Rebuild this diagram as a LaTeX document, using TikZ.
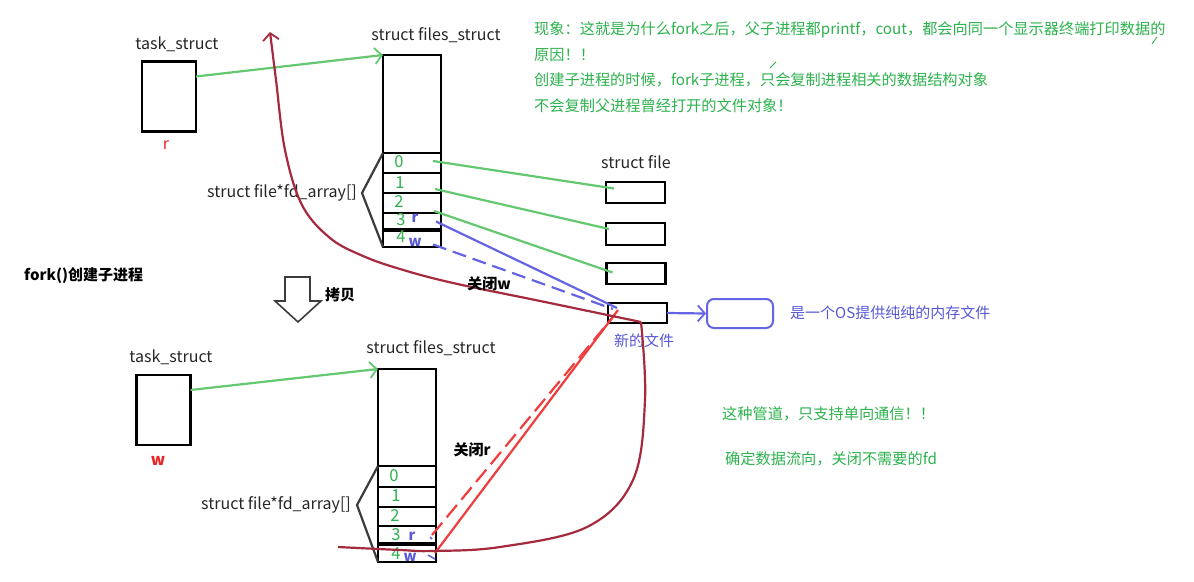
\documentclass[tikz,border=0pt]{standalone}
\usepackage{fontspec}
\setmainfont{Noto Sans CJK SC}
\usetikzlibrary{arrows.meta,calc}
\definecolor{gline}{RGB}{100,200,112}
\definecolor{gtext}{RGB}{45,178,78}
\definecolor{bline}{RGB}{100,100,228}
\definecolor{btext}{RGB}{88,88,215}
\definecolor{rline}{RGB}{240,60,60}
\definecolor{mline}{RGB}{165,42,62}
\definecolor{rtext}{RGB}{235,35,35}
\definecolor{bk}{RGB}{60,60,60}
\tikzset{
  box/.style={draw=black, line width=2.2pt, inner sep=0pt, outer sep=0pt, minimum width=58pt},
  tbox/.style={draw=black, line width=2.2pt, inner sep=0pt, outer sep=0pt, minimum width=54pt, minimum height=70pt},
  fbox/.style={draw=black, line width=2.4pt, inner sep=0pt, outer sep=0pt, minimum width=59pt, minimum height=21pt},
  lbl/.style={font=\fontsize{16}{18}\selectfont, text=black!85, inner sep=0pt},
  num/.style={font=\fontsize{16.5}{18}\selectfont, text=gtext, inner sep=0pt},
  rw/.style={font=\fontsize{14.5}{16}\selectfont\bfseries, text=btext, inner sep=0pt},
  red/.style={font=\fontsize{16}{17}\selectfont\bfseries, text=rtext, inner sep=0pt},
  gnote/.style={font=\fontsize{15.2}{17}\selectfont, text=gtext, anchor=west, inner sep=0pt},
  bnote/.style={font=\fontsize{15}{17}\selectfont, text=btext, inner sep=0pt},
  bold/.style={font=\fontsize{15}{17}\selectfont\bfseries, text=black, inner sep=0pt},
  gconn/.style={draw=gline, line width=2.2pt},
  barb/.style={-{Straight Barb[length=7pt,width=16pt,line width=1.8pt]}},
  brk/.style={draw=bk, line width=2.2pt},
  thick3/.style={draw=black, line width=3.5pt},
}
\begin{document}
\begin{tikzpicture}[x=1pt,y=-1pt]
\useasboundingbox (0,0) rectangle (1194,581);
\fill[white] (0,0) rectangle (1194,581);

% ---------------- top (parent) ----------------
\node[lbl] (t1l) at (177,44) {task\_struct};
\node[tbox] (t1) at (169,96.5) {};
\node[red, font=\fontsize{16}{17}\selectfont] (t1r) at (166,145) {r};

\node[lbl] (f1l) at (436,35) {struct files\_struct};
\node[box, minimum height=98pt] (a) at (412,104) {};
\node[box, minimum height=20pt] (a0) at (412,163) {};
\node[box, minimum height=20pt] (a1) at (412,183) {};
\node[box, minimum height=20pt] (a2) at (412,203) {};
\node[box, minimum height=17pt] (a3) at (412,221.5) {};
\node[box, minimum height=17pt] (a4) at (412,238.5) {};
\draw[thick3] (a3.south west) -- (a3.south east);
\node[num] (a0n) at (399,162) {0};
\node[num] (a1n) at (400,183) {1};
\node[num] (a2n) at (399,202) {2};
\node[num] (a3n) at (401,220) {3};
\node[num] (a4n) at (401,237) {4};
\node[rw] (a3r) at (415,218) {r};
\node[rw] (a4w) at (415,242) {w};

\coordinate (b1) at (362,193);
\draw[brk] (a0.north west) -- (b1) -- (a4.south west);
\node[lbl, anchor=east] (fd1) at (357,193) {struct file*fd\_array[]};

\draw[gconn, barb] ([yshift=20pt]t1.east) -- (a.north west);

% struct file
\node[lbl] (sfl) at (636,162) {struct file};
\node[fbox] (s0) at (635.5,192.5) {};
\node[fbox, minimum height=22pt] (s1) at (635.5,234) {};
\node[fbox] (s2) at (636,273.5) {};
\node[fbox, minimum height=20pt] (nf) at (637.5,313) {};
\node[bnote] (nfl) at (644,341) {新的文件};

\draw[gconn] ([xshift=-8pt,yshift=2pt]a0.east) -- ([xshift=8pt,yshift=4pt]s0.west);
\draw[gconn] ([xshift=-6pt,yshift=-6pt]a1.east) -- ([xshift=3pt,yshift=5pt]s1.west);
\draw[gconn] ([xshift=-7pt,yshift=-8pt]a2.east) -- ([xshift=6pt,yshift=1pt]s2.west);
\draw[draw=bline, line width=2.2pt] ([xshift=-5pt]a3.east) -- ([xshift=9pt,yshift=5pt]nf.west);
\draw[draw=bline, line width=2.2pt, dash pattern=on 14pt off 7pt] ([xshift=-8pt,yshift=-6pt]a4.east) -- ([xshift=5pt,yshift=4pt]nf.west);

\node[draw=bline, line width=2pt, rounded corners=7pt, minimum width=66pt, minimum height=29pt, inner sep=0pt] (os) at (740,313.5) {};
\draw[draw=bline, line width=2.2pt, barb] (nf.east) -- (os.west);
\node[bnote, anchor=west] (osl) at (790,313) {是一个OS提供纯纯的内存文件};

% notes
\node[gnote] (n1) at (534,30) {现象：这就是为什么fork之后，父子进程都printf，cout，都会向同一个显示器终端打印数据的};
\node[gnote] (n2) at (534,55) {原因！！};
\node[gnote] (n3) at (534,80) {创建子进程的时候，fork子进程，只会复制进程相关的数据结构对象};
\node[gnote] (n4) at (534,106) {不会复制父进程曾经打开的文件对象！};
\draw[gtext, line width=0.8pt] (1152,44) -- (1157,37);
\draw[gtext, line width=0.8pt] (770,68) -- (776,62);

\node[gnote] (n5) at (722,414) {这种管道，只支持单向通信！！};
\node[gnote] (n6) at (725,459) {确定数据流向，关闭不需要的fd};

% fork
\node[bold, anchor=west] (fork) at (24,276) {fork()创建子进程};
\draw[draw=bk, line width=1.6pt, fill=white] (285,277) -- (310,277) -- (310,301) -- (321,301) -- (298,322) -- (275,301) -- (285,301) -- cycle;
\node[bold, anchor=west] (copy) at (325,295) {拷贝};

% ---------------- bottom (child) ----------------
\node[lbl] (t2l) at (171,357) {task\_struct};
\node[tbox] (t2) at (163.5,410) {};
\node[red] (t2w) at (158,461) {w};

\node[lbl] (f2l) at (431,348) {struct files\_struct};
\node[box, minimum height=97pt] (b) at (407,417.5) {};
\node[box, minimum height=21pt] (b0) at (407,476.5) {};
\node[box, minimum height=20pt] (b1c) at (407,497) {};
\node[box, minimum height=19pt] (b2) at (407,516.5) {};
\node[box, minimum height=18pt] (b3) at (407,535) {};
\node[box, minimum height=18pt] (b4) at (407,553) {};
\draw[thick3] (b3.south west) -- (b3.south east);
\node[num] (b0n) at (394,476) {0};
\node[num] (b1n) at (396,496) {1};
\node[num] (b2n) at (395,516) {2};
\node[num] (b3n) at (396,535) {3};
\node[num] (b4n) at (396,554) {4};
\node[rw] (b3r) at (412,536) {r};
\node[rw] (b4w) at (410,557) {w};
\draw[draw=bline, line width=1.6pt] ([xshift=-6pt,yshift=-2pt]b3.east) -- ([xshift=-4pt,yshift=-4pt]b3.east);
\draw[draw=bline, line width=1.6pt] ([xshift=-8pt,yshift=-2pt]b4.east) -- ([xshift=-1pt,yshift=-6pt]b4.east);

\coordinate (b2t) at (357,505);
\draw[brk] (b0.north west) -- (b2t) -- (b4.south west);
\node[lbl, anchor=east] (fd2) at (351,505) {struct file*fd\_array[]};

\draw[gconn, barb] ([yshift=20pt]t2.east) -- (b.north west);

% red lines (close r)
\draw[draw=rline, line width=2.2pt] ([xshift=-1pt]b4.east) -- ([xshift=10pt,yshift=3pt]nf.west);
\draw[draw=rline, line width=2.2pt, dash pattern=on 16pt off 7pt] ([xshift=-4pt]b3.east) -- ([xshift=5pt,yshift=-4pt]nf.west);
\node[bold] (closer) at (472,450) {关闭r};

% maroon curve (close w)
\coordinate (m0) at (338,547);
\coordinate (m1) at (270,32);
\draw[draw=mline, line width=2.2pt] plot[smooth, tension=0.6] coordinates {(338,547) (400,550) (433,551) (500,547) (587,527) (633,480) (645,400) (641,322)};
\draw[draw=mline, line width=2.2pt, barb] plot[smooth, tension=0.6] coordinates {(641,322) (545,302) (453,283) (400,269) (363,256) (330,238) (302,205) (285,150) (276,80) (270,32)};
\node[bold] (closew) at (489,284) {关闭w};
\end{tikzpicture}
\end{document}
